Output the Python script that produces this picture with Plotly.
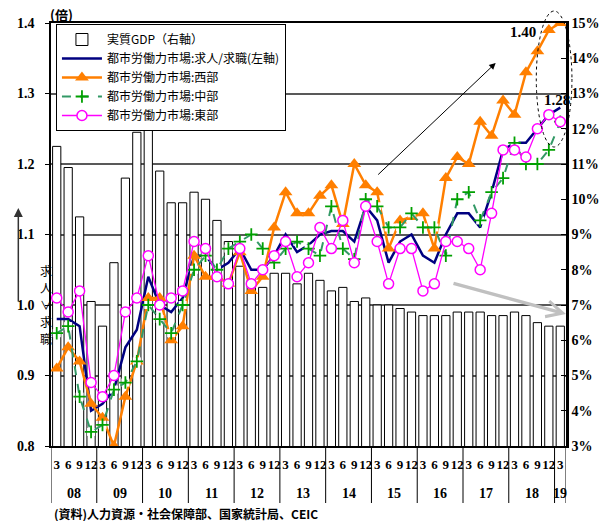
import plotly.graph_objects as go

# ---------------- data ----------------
years = ["08", "09", "10", "11", "12", "13", "14", "15", "16", "17", "18", "19"]
months = ["3", "6", "9", "12"]

gdp = [11.5, 10.9, 9.5, 7.1,
       6.4, 8.2, 10.6, 11.9,
       12.2, 10.8, 9.9, 9.9,
       10.2, 10.0, 9.4, 8.8,
       8.1, 7.7, 7.5, 7.9,
       7.9, 7.6, 7.9, 7.7,
       7.4, 7.5, 7.1, 7.2,
       7.0, 7.0, 6.9, 6.8,
       6.7, 6.7, 6.7, 6.8,
       6.8, 6.8, 6.7, 6.7,
       6.8, 6.7, 6.5, 6.4,
       6.4]

total = [0.98, 0.98, 0.97, 0.85,
         0.86, 0.88, 0.94, 0.965,
         1.04, 1.00, 0.99, 1.01,
         1.07, 1.07, 1.05, 1.06,
         1.08, 1.05, 1.05, 1.07,
         1.10, 1.075, 1.085, 1.10,
         1.105, 1.105, 1.09, 1.14,
         1.12, 1.06, 1.09, 1.10,
         1.07, 1.06, 1.10, 1.13,
         1.13, 1.11, 1.16, 1.22,
         1.23, 1.23, 1.25, 1.27,
         1.28]

west = [0.91, 0.94, 0.92, 0.86,
        0.84, 0.80, 0.87, 0.92,
        1.01, 1.01, 0.95, 0.97,
        1.07, 1.04, 1.04, 1.03,
        1.075, 1.02, 1.04, 1.11,
        1.16, 1.13, 1.13, 1.155,
        1.17, 1.115, 1.20, 1.17,
        1.16, 1.08, 1.12, 1.125,
        1.13, 1.08, 1.18, 1.21,
        1.20, 1.26, 1.24, 1.29,
        1.27, 1.33, 1.36, 1.39,
        1.40]

central = [0.96, 0.97, 0.87, 0.82,
           0.83, 0.88, 0.89, 0.92,
           1.00, 0.98, 0.96, 1.00,
           1.05, 1.07, 1.05, 1.08,
           1.09, 1.10, 1.08, 1.06,
           1.08, 1.09, 1.08, 1.07,
           1.14, 1.08, 1.065, 1.15,
           1.14, 1.11, 1.11, 1.13,
           1.11, 1.11, 1.07, 1.15,
           1.16, 1.12, 1.16, 1.18,
           1.23, 1.20, 1.20, 1.22,
           1.26]

east = [1.01, 0.99, 1.02, 0.89,
        0.87, 0.90, 0.99, 1.01,
        1.07, 1.00, 1.01, 1.02,
        1.09, 1.08, 1.04, 1.03,
        1.08, 1.03, 1.05, 1.07,
        1.09, 1.04, 1.06, 1.11,
        1.08, 1.12, 1.06, 1.14,
        1.09, 1.03, 1.08, 1.08,
        1.02, 1.03, 1.09, 1.09,
        1.08, 1.05, 1.13, 1.22,
        1.22, 1.21, 1.25, 1.27,
        1.26]

names = ["実質GDP（右軸）", "都市労働力市場:求人/求職(左軸)",
         "都市労働力市場:西部", "都市労働力市場:中部", "都市労働力市場:東部"]
side_chars = ["求", "人", "∨", "求", "職"]

# ---------------- layout helpers ----------------
W, H = 612, 521
ML, MR, MT, MB = 51, 41, 23, 75
PW, PH = W - ML - MR, H - MT - MB


def pxx(v):
    return (v - ML) / PW


def pxy(v):
    return (H - MB - v) / PH


n = len(gdp)
xs = list(range(n))
month_text = [months[i % 4] for i in xs]

SERIF = dict(family="Liberation Serif", size=14, color="black", weight="bold")
CJK = "Noto Sans CJK JP"

fig = go.Figure()
fig.add_trace(go.Bar(x=xs, y=gdp, name=names[0], yaxis="y",
                     marker=dict(color="white", line=dict(color="black", width=1))))
fig.add_trace(go.Scatter(x=xs, y=total, name=names[1], yaxis="y2", mode="lines",
                         line=dict(color="#000080", width=2.5)))
fig.add_trace(go.Scatter(x=xs, y=west, name=names[2], yaxis="y2", mode="lines+markers",
                         line=dict(color="#FF7F00", width=2.5),
                         marker=dict(symbol="triangle-up", size=12, color="#FF7F00")))
fig.add_trace(go.Scatter(x=xs, y=central, yaxis="y2", mode="markers", showlegend=False,
                         hoverinfo="skip",
                         marker=dict(symbol="square", size=8, color="white")))
fig.add_trace(go.Scatter(x=xs, y=central, name=names[3], yaxis="y2", mode="lines+markers",
                         line=dict(color="#339966", width=2, dash="dash"),
                         marker=dict(symbol="cross-thin", size=9,
                                     line=dict(color="#00A000", width=1.8))))
fig.add_trace(go.Scatter(x=xs, y=east, name=names[4], yaxis="y2", mode="lines+markers",
                         line=dict(color="#FF00FF", width=1.3),
                         marker=dict(symbol="circle", size=10, color="white",
                                     line=dict(color="#FF00FF", width=1.5))))

ann_base = dict(xref="paper", yref="paper", xanchor="center", yanchor="middle",
                showarrow=False)
annotations = [
    dict(ann_base, text="(倍)", x=pxx(62), y=pxy(15),
         font=dict(family=CJK, size=13, color="black", weight="bold")),
    dict(text="", x=pxx(18), y=pxy(208), xref="paper", yref="paper",
         showarrow=True, ax=0, ay=95,
         arrowhead=2, arrowsize=1.2, arrowwidth=1.5, arrowcolor="#333333"),
    dict(text="", x=pxx(500), y=pxy(63), xref="paper", yref="paper",
         showarrow=True, ax=-119, ay=113, arrowhead=2, arrowsize=1.3,
         arrowwidth=1, arrowcolor="black"),
    dict(text="", x=pxx(571), y=pxy(314), xref="paper", yref="paper",
         showarrow=True, ax=-114, ay=-31, arrowhead=5, arrowsize=0.9,
         arrowwidth=3.5, arrowcolor="#C0C0C0"),
    dict(ann_base, text="1.40", x=pxx(528), y=pxy(32),
         font=dict(family="Liberation Serif", size=15, color="black", weight="bold")),
    dict(ann_base, text="1.28", x=pxx(562), y=pxy(100),
         font=dict(family="Liberation Serif", size=15, color="black", weight="bold")),
    dict(ann_base, text="(資料)人力資源・社会保障部、国家統計局、CEIC", x=pxx(52), y=pxy(513),
         xanchor="left",
         font=dict(family=CJK, size=12, color="black", weight="bold")),
]

# vertical caption "求人>求職" beside the left axis, one character per line
for k, ch in enumerate(side_chars):
    annotations.append(dict(ann_base, text=ch, x=pxx(45.5), y=pxy(270 + 17 * k),
                            font=dict(family=CJK, size=12, color="black")))

# year labels centred under each group of quarters
for k, yr in enumerate(years):
    idx = [i for i in xs if i // 4 == k]
    annotations.append(dict(text=yr, x=sum(idx) / len(idx), y=pxy(493),
                            xref="x", yref="paper", showarrow=False,
                            xanchor="center", yanchor="middle",
                            font=dict(SERIF, size=14)))

shapes = [
    dict(type="circle", xref="paper", yref="paper",
         x0=pxx(541), x1=pxx(577), y0=pxy(147), y1=pxy(11),
         line=dict(color="black", width=1, dash="dot")),
]
# year dividers below the axis
bounds = [i - 0.5 for i in xs if i % 4 == 0] + [n - 0.5]
for b in bounds:
    shapes.append(dict(type="line", xref="x", yref="paper", x0=b, x1=b,
                       y0=0, y1=pxy(503), line=dict(color="black", width=1)))

fig.update_layout(
    width=W, height=H,
    margin=dict(l=ML, r=MR, t=MT, b=MB, pad=0),
    paper_bgcolor="white", plot_bgcolor="white",
    bargap=0.28,
    showlegend=True,
    legend=dict(x=pxx(56), y=pxy(24), xanchor="left", yanchor="top",
                bgcolor="white", bordercolor="black", borderwidth=1,
                font=dict(family=CJK, size=12, color="black"),
                tracegroupgap=0, itemwidth=40),
    xaxis=dict(range=[-0.5, n - 0.5], tickmode="array", tickvals=xs, ticktext=month_text,
               showline=True, mirror=True, linecolor="black", linewidth=1.5,
               ticks="", tickfont=dict(SERIF, size=13), tickangle=0,
               ticklabelstandoff=6, showgrid=False, zeroline=False),
    yaxis=dict(side="right", range=[3, 15], dtick=1, ticksuffix="%",
               showline=True, linecolor="black", linewidth=2.5,
               ticks="inside", ticklen=5, tickcolor="black", tickfont=SERIF,
               showgrid=False, zeroline=False),
    yaxis2=dict(overlaying="y", side="left", range=[0.8, 1.4], dtick=0.1,
                tickformat=".1f", showgrid=True, gridcolor="#595959", gridwidth=1.5,
                showline=True, linecolor="black", linewidth=1.5,
                ticks="outside", ticklen=4, tickcolor="black", tickfont=SERIF,
                ticklabelstandoff=8, zeroline=False),
    annotations=annotations,
    shapes=shapes,
)

fig.write_html("out.html")
